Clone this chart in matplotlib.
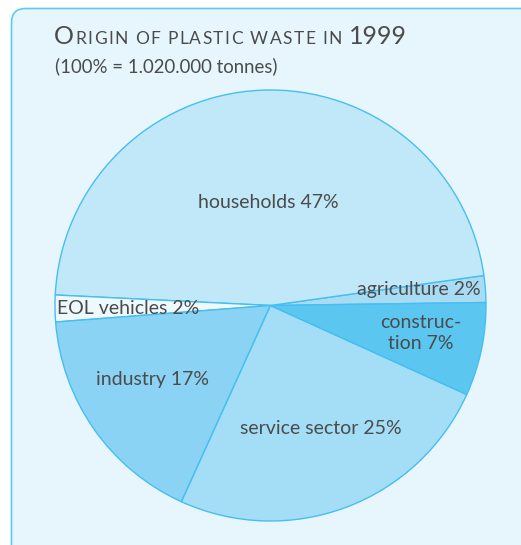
import matplotlib
matplotlib.use("Agg")
import matplotlib.pyplot as plt
from matplotlib.patches import FancyBboxPatch
from matplotlib.offsetbox import TextArea, HPacker, AnchoredOffsetbox

# data (counterclockwise from ~1 deg)
sectors = ["agriculture", "households", "EOL vehicles", "industry", "service sector", "construction"]
shares = [2, 47, 2, 17, 25, 7]
colors = ["#a8dcf5", "#c1e8f9", "#eef9fe", "#8ad3f4", "#a3ddf6", "#5bc6f0"]
label_text = ["agriculture 2%", "households 47%", "EOL vehicles 2%", "industry 17%",
              "service sector 25%", "construc-\ntion 7%"]

W, H = 521, 545
fig = plt.figure(figsize=(W / 100, H / 100), dpi=100)

# background panel in pixel coords
bg = fig.add_axes([0, 0, 1, 1])
bg.set_xlim(0, W)
bg.set_ylim(H, 0)
bg.axis("off")
panel = FancyBboxPatch((11.5, 8.5), 560, 580, boxstyle="round,pad=0,rounding_size=14",
                       fc="#e7f6fd", ec="#5ccbf2", lw=1.2)
bg.add_patch(panel)

txt = "#4b4b4b"
font = "Lato"

# small-caps title, letter by letter for some tracking
def sc(s, size):
    return TextArea(s, textprops=dict(fontsize=size, color=txt, family=font))

big, small = 18, 12.5
chars = [("O", big)] + [(c, small) for c in "RIGIN OF PLASTIC WASTE IN "] + [("1999", big)]
title = HPacker(children=[sc(c, s) for c, s in chars], align="baseline", pad=0, sep=1.0)
ab = AnchoredOffsetbox(loc="upper left", child=title, pad=0, frameon=False,
                       bbox_to_anchor=(54 / W, 1 - 25 / H), bbox_transform=fig.transFigure,
                       borderpad=0)
fig.add_artist(ab)
fig.text(55 / W, 1 - 72 / H, "(100% = 1.020.000 tonnes)", fontsize=13.4, color=txt,
         family=font, va="baseline")

# pie
cx, cy, r = 270.5, 305.5, 215.5
pax = fig.add_axes([(cx - r) / W, 1 - (cy + r) / H, 2 * r / W, 2 * r / H])
pax.pie(shares, colors=colors, startangle=0.8, counterclock=True, radius=1,
        wedgeprops=dict(edgecolor="#45bff0", linewidth=1.0))
pax.set_xlim(-1, 1)
pax.set_ylim(-1, 1)
pax.axis("off")

# labels in pixel coords, on an overlay axes
top = fig.add_axes([0, 0, 1, 1])
top.set_xlim(0, W)
top.set_ylim(H, 0)
top.axis("off")
label_pos = [(481, 290, "right"), (268, 203, "center"), (57, 309, "left"),
             (152, 379, "center"), (321, 428, "center"), (421, 333, "center")]
for t, (x, y, ha) in zip(label_text, label_pos):
    top.text(x, y, t, ha=ha, va="center", fontsize=14, color=txt, family=font,
             linespacing=1.3)

fig.savefig("out.png", dpi=100)
